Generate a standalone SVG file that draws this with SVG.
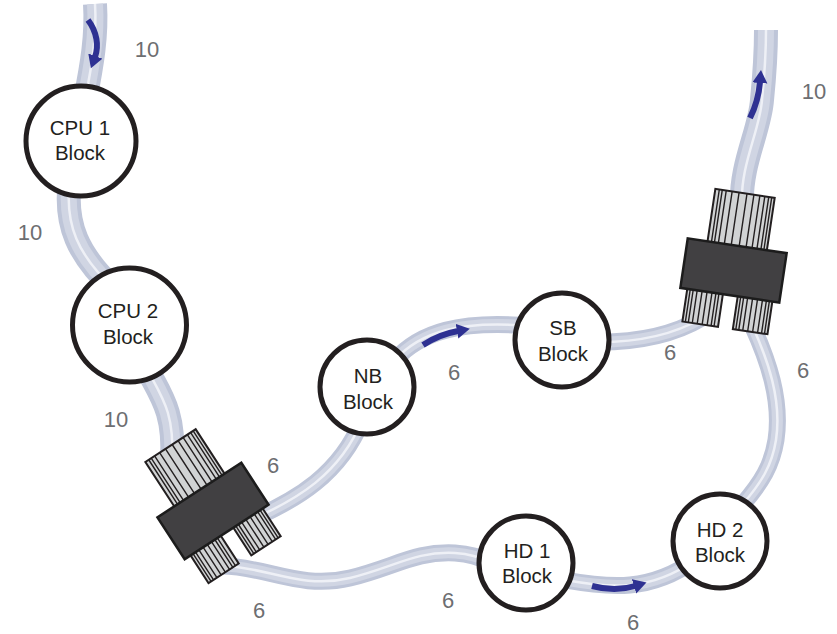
<svg xmlns="http://www.w3.org/2000/svg" xmlns:xlink="http://www.w3.org/1999/xlink" width="837" height="634" viewBox="0 0 837 634">
<style>
.tube10o{fill:none;stroke:#bec5d8;stroke-width:24;stroke-linecap:butt}
.tube10m{fill:none;stroke:#d0d5e3;stroke-width:16}
.tube6o{fill:none;stroke:#bec5d8;stroke-width:17;stroke-linecap:butt}
.tube6m{fill:none;stroke:#d0d5e3;stroke-width:11}
.hl{fill:none;stroke:#eef0f6;stroke-width:2.5}
.arrow{fill:none;stroke:#2e3192;stroke-width:6;marker-end:url(#ah)}
.node{fill:#fff;stroke:#231f20;stroke-width:5}
.lbl{font-family:"Liberation Sans",Arial,sans-serif;font-size:20.5px;fill:#231f20;text-anchor:middle}
.num{font-family:"Liberation Sans",Arial,sans-serif;font-size:22px;fill:#6d6e71;text-anchor:middle}
.body{fill:#414042;stroke:#1c1c1c;stroke-width:2.5}
.nut{fill:#d1d3d4;stroke:#231f20;stroke-width:2}
.knurl{fill:none;stroke:#231f20;stroke-width:1.4}
</style>
<defs>
<marker id="ah" markerUnits="userSpaceOnUse" markerWidth="16" markerHeight="16" refX="1" refY="7.5" orient="auto">
<path d="M0,0 L13,7.5 L0,15 z" fill="#2e3192"/>
</marker>
<g id="fitting">
<rect class="nut" x="-30" y="-78" width="60" height="54"/>
<path class="knurl" d="M-26,-78V-24M-23,-78V-24M-19,-78V-24M-13,-78V-24M-6,-78V-24M2,-78V-24M9,-78V-24M15,-78V-24M20,-78V-24M24,-78V-24M27,-78V-24"/>
<rect class="nut" x="-43" y="24" width="36" height="34"/>
<path class="knurl" d="M-40,24V58M-37,24V58M-33,24V58M-28,24V58M-23,24V58M-18,24V58M-14,24V58M-11,24V58"/>
<rect class="nut" x="8" y="24" width="35" height="34"/>
<path class="knurl" d="M11,24V58M14,24V58M18,24V58M23,24V58M28,24V58M33,24V58M37,24V58M40,24V58"/>
<rect class="body" x="-50" y="-25" width="100" height="50"/>
</g>
</defs>
<rect width="837" height="634" fill="#fff"/>
<g id="connectors">
<g id="tubes10">
<path class="tube10o" d="M95,4 C97,35 92,65 85,100"/>
<path class="tube10m" d="M95,4 C97,35 92,65 85,100"/>
<path class="hl" d="M95,4 C97,35 92,65 85,100"/>
<path class="tube10o" d="M70,180 C64,225 78,255 115,290"/>
<path class="tube10m" d="M70,180 C64,225 78,255 115,290"/>
<path class="hl" d="M70,180 C64,225 78,255 115,290"/>
<path class="tube10o" d="M145,365 C160,395 175,410 172,460"/>
<path class="tube10m" d="M145,365 C160,395 175,410 172,460"/>
<path class="hl" d="M145,365 C160,395 175,410 172,460"/>
<path class="tube10o" d="M742,205 C740,165 760,130 762,100 C765,70 766,50 766,30"/>
<path class="tube10m" d="M742,205 C740,165 760,130 762,100 C765,70 766,50 766,30"/>
<path class="hl" d="M742,205 C740,165 760,130 762,100 C765,70 766,50 766,30"/>
</g>
<g id="tubes6">
<path class="tube6o" d="M255,518 C295,500 340,475 362,420"/>
<path class="tube6m" d="M255,518 C295,500 340,475 362,420"/>
<path class="hl" d="M255,518 C295,500 340,475 362,420"/>
<path class="tube6o" d="M395,360 C420,332 460,320 530,326"/>
<path class="tube6m" d="M395,360 C420,332 460,320 530,326"/>
<path class="hl" d="M395,360 C420,332 460,320 530,326"/>
<path class="tube6o" d="M590,342 C630,343 670,337 702,318"/>
<path class="tube6m" d="M590,342 C630,343 670,337 702,318"/>
<path class="hl" d="M590,342 C630,343 670,337 702,318"/>
<path class="tube6o" d="M752,325 C768,360 782,400 776,440 C772,465 762,482 742,505"/>
<path class="tube6m" d="M752,325 C768,360 782,400 776,440 C772,465 762,482 742,505"/>
<path class="hl" d="M752,325 C768,360 782,400 776,440 C772,465 762,482 742,505"/>
<path class="tube6o" d="M565,580 C610,588 650,592 695,560"/>
<path class="tube6m" d="M565,580 C610,588 650,592 695,560"/>
<path class="hl" d="M565,580 C610,588 650,592 695,560"/>
<path class="tube6o" d="M222,566 C265,566 300,590 350,578 C395,567 415,551 455,553 C470,554 478,557 490,562"/>
<path class="tube6m" d="M222,566 C265,566 300,590 350,578 C395,567 415,551 455,553 C470,554 478,557 490,562"/>
<path class="hl" d="M222,566 C265,566 300,590 350,578 C395,567 415,551 455,553 C470,554 478,557 490,562"/>
</g>
<g id="flow-arrows">
<path class="arrow" d="M88,20 C97,32 99,46 95,57"/>
<path class="arrow" d="M423,345 C435,337 447,333 458,331"/>
<path class="arrow" d="M592,586 C607,590 622,590 635,586"/>
<path class="arrow" d="M750,118 C756,106 759,94 760,82"/>
</g>
</g>
<g id="fitting-left"><use xlink:href="#fitting" href="#fitting" transform="translate(213,511) rotate(-33)"/></g>
<g id="fitting-right"><use xlink:href="#fitting" href="#fitting" transform="translate(733.5,270.5) rotate(8.5)"/></g>
<g id="cpu1"><circle class="node" cx="81" cy="141" r="55"/><text class="lbl" x="80" y="135">CPU 1</text><text class="lbl" x="80" y="160">Block</text></g>
<g id="cpu2"><circle class="node" cx="129.5" cy="325" r="57"/><text class="lbl" x="128" y="318">CPU 2</text><text class="lbl" x="128" y="344">Block</text></g>
<g id="nb"><circle class="node" cx="367" cy="387" r="47"/><text class="lbl" x="368" y="383">NB</text><text class="lbl" x="368" y="409">Block</text></g>
<g id="sb"><circle class="node" cx="562" cy="340" r="47"/><text class="lbl" x="563" y="335">SB</text><text class="lbl" x="563" y="361">Block</text></g>
<g id="hd1"><circle class="node" cx="526" cy="563" r="47"/><text class="lbl" x="527" y="558">HD 1</text><text class="lbl" x="527" y="583">Block</text></g>
<g id="hd2"><circle class="node" cx="720" cy="541" r="47"/><text class="lbl" x="720" y="537">HD 2</text><text class="lbl" x="720" y="562">Block</text></g>
<g id="lengths">
<text class="num" x="147" y="57">10</text>
<text class="num" x="30" y="240">10</text>
<text class="num" x="116" y="427">10</text>
<text class="num" x="814" y="99">10</text>
<text class="num" x="273" y="473">6</text>
<text class="num" x="454" y="380">6</text>
<text class="num" x="670" y="360">6</text>
<text class="num" x="803" y="378">6</text>
<text class="num" x="259" y="618">6</text>
<text class="num" x="448" y="608">6</text>
<text class="num" x="633" y="630">6</text>
</g>
</svg>
